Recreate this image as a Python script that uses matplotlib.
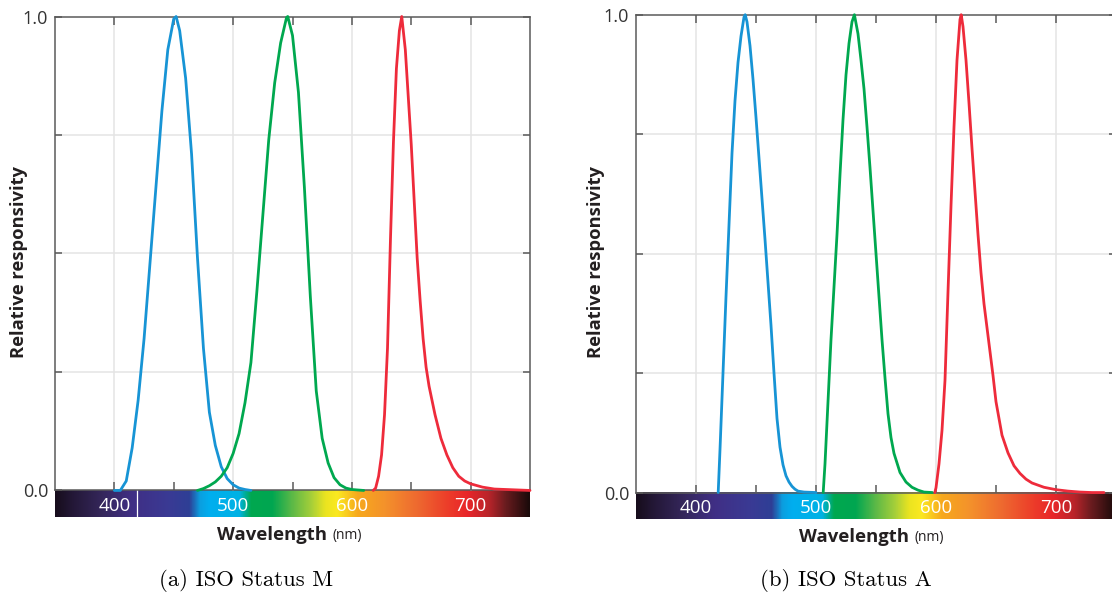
import numpy as np
import matplotlib
matplotlib.use("Agg")
import matplotlib.pyplot as plt
from matplotlib.colors import LinearSegmentedColormap

# ---- ISO Status M densitometer responses ----
m_blue_nm = [400, 405, 410, 415, 420, 425, 430, 435, 440, 445, 450, 452, 455, 460, 465, 470,
             475, 480, 485, 490, 495, 500, 505, 510, 515]
m_blue = [0.0, 0.0, 0.02, 0.09, 0.19, 0.32, 0.48, 0.64, 0.80, 0.93, 0.995, 1.0, 0.97, 0.87, 0.71,
          0.49, 0.30, 0.165, 0.095, 0.05, 0.025, 0.012, 0.005, 0.002, 0.0]

m_green_nm = [470, 475, 480, 485, 490, 495, 500, 505, 510, 515, 520, 525, 530, 535, 540, 545, 546,
              550, 555, 560, 565, 570, 575, 580, 585, 590, 595, 600, 605, 610]
m_green = [0.0, 0.004, 0.01, 0.018, 0.03, 0.048, 0.078, 0.12, 0.185, 0.27, 0.42, 0.58, 0.74, 0.86,
           0.944, 0.998, 1.0, 0.96, 0.84, 0.64, 0.41, 0.21, 0.11, 0.058, 0.027, 0.012, 0.005,
           0.002, 0.001, 0.0]

m_red_nm = [618, 620, 622.5, 625, 627.5, 630, 632.5, 635, 637.5, 640, 642, 645, 647.5, 650, 652.5,
            655, 657.5, 660, 662.5, 665, 670, 675, 680, 685, 690, 695, 700, 710, 720, 730, 740, 750]
m_red = [0.0, 0.005, 0.03, 0.075, 0.16, 0.30, 0.53, 0.735, 0.89, 0.97, 1.0, 0.93, 0.83, 0.73, 0.61,
         0.49, 0.40, 0.32, 0.26, 0.22, 0.16, 0.11, 0.075, 0.048, 0.03, 0.02, 0.014, 0.007, 0.003,
         0.002, 0.001, 0.0]

# ---- ISO Status A densitometer responses ----
a_blue_nm = [418.5, 420, 422.5, 425, 427.5, 430, 432.5, 435, 437.5, 440, 441, 442.5, 445, 447.5,
             450, 452.5, 455, 457.5, 460, 462.5, 465, 467.5, 470, 472.5, 475, 477.5, 480, 482.5,
             485, 490, 500]
a_blue = [0.0, 0.09, 0.25, 0.41, 0.56, 0.71, 0.82, 0.90, 0.955, 0.995, 1.0, 0.985, 0.935, 0.865,
          0.785, 0.70, 0.615, 0.53, 0.44, 0.35, 0.25, 0.155, 0.095, 0.058, 0.035, 0.022, 0.013,
          0.007, 0.003, 0.001, 0.0]

a_green_nm = [506, 507.5, 510, 512.5, 515, 517.5, 520, 522.5, 525, 527.5, 530, 532, 535, 537.5, 540,
              542.5, 545, 547.5, 550, 552.5, 555, 557.5, 560, 562.5, 565, 570, 575, 580, 585, 590,
              597]
a_green = [0.0, 0.06, 0.19, 0.32, 0.43, 0.54, 0.665, 0.78, 0.874, 0.94, 0.985, 1.0, 0.96, 0.905,
           0.845, 0.765, 0.68, 0.59, 0.50, 0.41, 0.32, 0.24, 0.165, 0.115, 0.082, 0.042, 0.022,
           0.011, 0.005, 0.001, 0.0]

a_red_nm = [599, 600, 602.5, 605, 607.5, 610, 612.5, 615, 617.5, 620, 621, 622.5, 625, 627.5, 630,
            632.5, 635, 637.5, 640, 642.5, 645, 647.5, 650, 655, 660, 665, 670, 675, 680, 690, 700,
            710, 720, 730, 740]
a_red = [0.0, 0.01, 0.06, 0.13, 0.235, 0.42, 0.60, 0.765, 0.905, 0.99, 1.0, 0.975, 0.905, 0.815,
         0.72, 0.63, 0.54, 0.46, 0.395, 0.345, 0.295, 0.245, 0.19, 0.12, 0.083, 0.056, 0.04, 0.028,
         0.02, 0.011, 0.006, 0.003, 0.001, 0.0, 0.0]

# axis ticks
major_ticks = [400, 500, 600, 700]
minor_ticks = [450, 550, 650]
tick_labels = ["400", "500", "600", "700"]
captions = ["(a) ISO Status M", "(b) ISO Status A"]

BLUE = "#1794d5"
GREEN = "#00a84f"
RED = "#ee2b3b"
SPINE = "#5a5a5a"
GRID = "#e4e4e4"
TEXT = "#231f20"

# visible spectrum strip under the wavelength axis
spectrum_stops = [
    (350, "#170d1c"), (365, "#241838"), (390, "#35275c"), (415, "#402f85"),
    (445, "#3a3a94"), (463, "#2e3f96"), (472, "#0b9fe0"), (480, "#00aeef"),
    (505, "#00b2e4"), (515, "#00a84f"), (533, "#00a651"), (550, "#5db947"),
    (566, "#a6cf39"), (578, "#ebe420"), (588, "#fbe921"), (605, "#f7a91d"),
    (628, "#f4922b"), (655, "#ee6a30"), (683, "#ec3a29"), (698, "#e8262a"),
    (716, "#b8242a"), (730, "#6a1c1f"), (750, "#1a0a0a"),
]
WL_MIN, WL_MAX = 350, 750
BAR = 0.056

spec_cmap = LinearSegmentedColormap.from_list(
    "spectrum",
    [((w - WL_MIN) / (WL_MAX - WL_MIN), c) for w, c in spectrum_stops],
    N=512,
)

W, H = 1112, 596
fig = plt.figure(figsize=(W / 100, H / 100), dpi=100)


def px(x, y):
    return x / W, 1 - y / H


def make_panel(rect, curves, white_mark=None):
    ax = fig.add_axes(rect)
    ax.set_xlim(WL_MIN, WL_MAX)
    ax.set_ylim(-BAR, 1.0)

    grad = np.linspace(0, 1, 800)[None, :]
    ax.imshow(grad, cmap=spec_cmap, aspect="auto",
              extent=(WL_MIN, WL_MAX, -BAR, 0), zorder=0.5, interpolation="bilinear")
    if white_mark is not None:
        ax.plot([white_mark, white_mark], [-BAR, 0], color="white", lw=0.9, zorder=0.6)

    for xv in major_ticks:
        ax.plot([xv, xv], [0, 1], color=GRID, lw=1.1, zorder=0.8)
    for yv in [0.25, 0.5, 0.75]:
        ax.plot([WL_MIN, WL_MAX], [yv, yv], color=GRID, lw=1.1, zorder=0.8)

    for nm, val, col in curves:
        ax.plot(nm, val, color=col, lw=2.0, zorder=3, solid_capstyle="round",
                solid_joinstyle="round", clip_on=False)

    for side in ["left", "right", "top", "bottom"]:
        ax.spines[side].set_color(SPINE)
        ax.spines[side].set_linewidth(1.1)
    ax.spines["bottom"].set_position(("data", 0))
    ax.spines["left"].set_bounds(0, 1)
    ax.spines["right"].set_bounds(0, 1)

    ax.set_xticks(major_ticks)
    ax.set_xticks(minor_ticks, minor=True)
    ax.set_xticklabels(tick_labels)
    ax.tick_params(axis="x", which="both", direction="in", top=True, bottom=True,
                   length=6, width=1.1, color=SPINE, labelcolor="white",
                   labelsize=13.5, pad=4.5)
    for lbl in ax.get_xticklabels():
        lbl.set_fontfamily("Open Sans")

    ax.set_yticks([0, 0.25, 0.5, 0.75, 1.0])
    ax.set_yticklabels(["0.0", "", "", "", "1.0"])
    ax.tick_params(axis="y", which="both", direction="in", left=True, right=True,
                   length=5, width=1.1, color=SPINE, labelcolor="#333333",
                   labelsize=13, pad=5)
    for lbl in ax.get_yticklabels():
        lbl.set_fontfamily("Open Sans")
    ax.set_facecolor("white")
    return ax


def rect_from_px(x0, x1, y_top, y_bot):
    return [x0 / W, 1 - y_bot / H, (x1 - x0) / W, (y_bot - y_top) / H]


ax_m = make_panel(rect_from_px(55, 530, 16.5, 517),
                  [(m_blue_nm, m_blue, BLUE), (m_green_nm, m_green, GREEN),
                   (m_red_nm, m_red, RED)], white_mark=419)
ax_a = make_panel(rect_from_px(636, 1116, 14.7, 519.3),
                  [(a_blue_nm, a_blue, BLUE), (a_green_nm, a_green, GREEN),
                   (a_red_nm, a_red, RED)])

# axis titles
for xc, yc in [(19, 262), (596, 262)]:
    fig.text(*px(xc, yc), "Relative responsivity", rotation=90, ha="center", va="center",
             fontsize=13.2, fontweight="bold", family="Open Sans", color=TEXT)

for x0, yc in [(217, 535), (799, 537)]:
    t = fig.text(*px(x0, yc), "Wavelength", ha="left", va="center", fontsize=13.3,
                 fontweight="bold", family="Open Sans", color=TEXT)
    plt.annotate("(nm)", xy=(1, 0.5), xycoords=t, xytext=(4, 0), textcoords="offset points",
                 ha="left", va="center", fontsize=10, family="Open Sans", color=TEXT)

for xc, cap in zip([246, 846], captions):
    fig.text(*px(xc, 580), cap, ha="center", va="center", fontsize=16.4, family="cmr10",
             color="black")

fig.savefig("out.png", dpi=100)
